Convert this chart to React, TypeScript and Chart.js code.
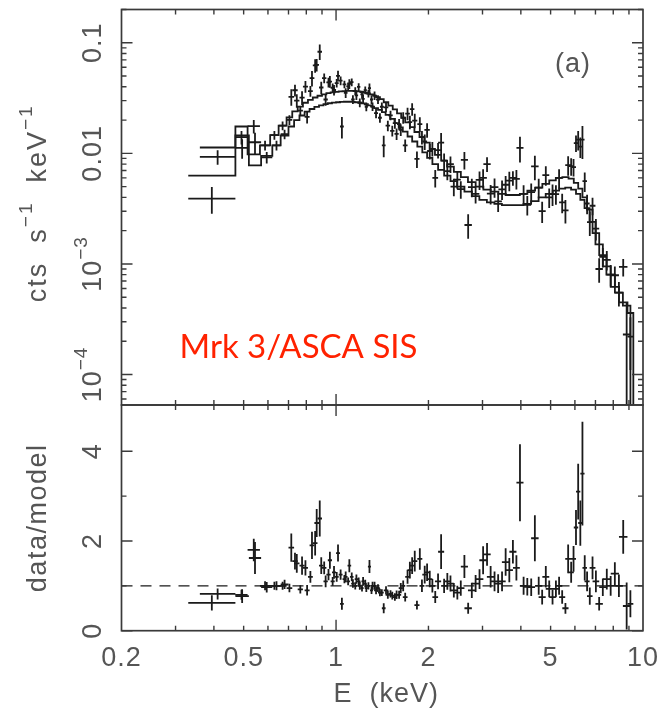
import React, { useEffect, useRef } from "react";
import { Chart, registerables } from "chart.js";
Chart.register(...registerables);

// ---------- data ----------
// Dataset A (lower model curve): bin edges in keV
const edgesA = [0.33, 0.47, 0.52, 0.57, 0.62, 0.66, 0.7, 0.73, 0.76, 0.79, 0.82, 0.85, 0.88, 0.91, 0.94, 0.97, 1.0, 1.03, 1.06, 1.09, 1.12, 1.15, 1.18, 1.21, 1.24, 1.27, 1.3, 1.33, 1.37, 1.41, 1.45, 1.5, 1.55, 1.6, 1.65, 1.71, 1.77, 1.84, 1.91, 1.98, 2.06, 2.15, 2.25, 2.36, 2.48, 2.62, 2.77, 2.93, 3.1, 3.28, 3.47, 3.67, 3.87, 4.08, 4.32, 4.57, 4.82, 5.08, 5.33, 5.58, 5.83, 6.05, 6.25, 6.45, 6.7, 7.0, 7.4, 7.85, 8.35, 8.9, 9.3];
const modelA = [
  0.0063, 0.0145, 0.0078, 0.0095, 0.0118, 0.0145, 0.0175, 0.02, 0.022, 0.0238,
  0.0252, 0.0263, 0.0272, 0.0279, 0.0284, 0.0288, 0.029, 0.0292, 0.0293, 0.0293,
  0.0292, 0.029, 0.0287, 0.0283, 0.0278, 0.0272, 0.0265, 0.0257, 0.0247, 0.0236,
  0.0223, 0.0205, 0.0188, 0.0172, 0.0157, 0.0142, 0.0128, 0.0115, 0.0102, 0.0091,
  0.008, 0.0071, 0.0063, 0.0056, 0.005, 0.0045, 0.0041, 0.0038, 0.0036, 0.0035,
  0.0034, 0.0034, 0.0034, 0.0035, 0.0037, 0.004, 0.0043, 0.0046, 0.0048, 0.0049,
  0.0047, 0.0043, 0.0038, 0.0032, 0.0024, 0.0015, 0.00095, 0.00062, 0.00045, 0.00036,
];
const countsA = [
  0.0039, 0.0112, 0.0126, 0.0092, 0.0118, 0.0149, 0.0324, 0.03, 0.0319, 0.0214,
  0.0479, 0.0631, 0.0394, 0.0307, 0.0446, 0.0374, 0.0502, 0.0175, 0.0352, 0.0425,
  0.0307, 0.0334, 0.0287, 0.0311, 0.0264, 0.0389, 0.0265, 0.0231, 0.021, 0.0118,
  0.0178, 0.016, 0.015, 0.0163, 0.0118, 0.0192, 0.0198, 0.0184, 0.0128, 0.0105,
  0.006, 0.0125, 0.0069, 0.005, 0.00475, 0.00225, 0.0043, 0.006, 0.00432, 0.00368,
  0.0052, 0.006, 0.0112, 0.00343, 0.00762, 0.003, 0.004, 0.00428, 0.0036, 0.00784,
  0.00752, 0.0133, 0.0133, 0.00352, 0.00336, 0.0009, 0.00109, 0.00079, 0.00094, 0.00022,
];
const ratioA = [
  0.62, 0.77, 1.62, 0.97, 1.0, 1.03, 1.85, 1.5, 1.45, 0.9,
  1.9, 2.4, 1.45, 1.1, 1.57, 1.3, 1.73, 0.6, 1.2, 1.45,
  1.05, 1.15, 1.0, 1.1, 0.95, 1.43, 1.0, 0.9, 0.85, 0.5,
  0.8, 0.78, 0.8, 0.95, 0.75, 1.35, 1.55, 1.6, 1.25, 1.15,
  0.75, 1.76, 1.1, 0.9, 0.95, 0.5, 1.05, 1.57, 1.2, 1.05,
  1.53, 1.76, 3.3, 0.98, 2.06, 0.75, 0.93, 0.93, 0.75, 1.6,
  1.6, 3.1, 3.5, 1.1, 1.4, 0.6, 1.15, 1.27, 2.09, 0.6,
];
const relErrA = [
  0.27, 0.2, 0.22, 0.12, 0.1, 0.1, 0.17, 0.14, 0.14, 0.13,
  0.16, 0.13, 0.13, 0.12, 0.12, 0.11, 0.11, 0.22, 0.1, 0.1,
  0.09, 0.09, 0.09, 0.09, 0.09, 0.1, 0.09, 0.1, 0.1, 0.22,
  0.11, 0.11, 0.12, 0.12, 0.13, 0.14, 0.15, 0.15, 0.16, 0.16,
  0.18, 0.22, 0.17, 0.18, 0.18, 0.25, 0.18, 0.2, 0.2, 0.2,
  0.2, 0.15, 0.26, 0.2, 0.25, 0.22, 0.2, 0.2, 0.2, 0.2,
  0.18, 0.2, 0.33, 0.2, 0.18, 0.25, 0.2, 0.2, 0.18, 0.5,
];

// Dataset B (upper model curve)
const edgesB = [0.36, 0.47, 0.515, 0.565, 0.61, 0.65, 0.69, 0.72, 0.75, 0.78, 0.81, 0.84, 0.87, 0.9, 0.93, 0.96, 0.99, 1.02, 1.05, 1.08, 1.11, 1.14, 1.17, 1.2, 1.23, 1.26, 1.29, 1.32, 1.35, 1.39, 1.43, 1.48, 1.53, 1.58, 1.63, 1.68, 1.74, 1.8, 1.87, 1.94, 2.02, 2.1, 2.2, 2.3, 2.42, 2.55, 2.69, 2.85, 3.02, 3.19, 3.38, 3.57, 3.77, 3.97, 4.2, 4.45, 4.7, 4.95, 5.2, 5.46, 5.72, 5.95, 6.15, 6.35, 6.57, 6.85, 7.2, 7.6, 8.1, 8.6, 9.1];
const modelB = [
  0.0113, 0.0175, 0.0098, 0.0118, 0.0146, 0.0178, 0.0212, 0.024, 0.0265, 0.0287,
  0.0305, 0.032, 0.0332, 0.0342, 0.035, 0.0356, 0.036, 0.0364, 0.0366, 0.0367,
  0.0367, 0.0366, 0.0363, 0.0359, 0.0354, 0.0348, 0.0341, 0.0333, 0.0323, 0.031,
  0.029, 0.027, 0.025, 0.023, 0.021, 0.0191, 0.0173, 0.0156, 0.014, 0.0125,
  0.011, 0.0097, 0.0086, 0.0076, 0.0068, 0.0061, 0.0055, 0.005, 0.0047, 0.0045,
  0.0043, 0.0042, 0.0042, 0.0043, 0.0046, 0.0049, 0.0053, 0.0057, 0.006, 0.0061,
  0.0059, 0.0054, 0.0048, 0.004, 0.0031, 0.0019, 0.0012, 0.0008, 0.00055, 0.00042,
];
const countsB = [
  0.0093, 0.014, 0.0176, 0.0118, 0.0146, 0.0178, 0.0201, 0.0372, 0.0244, 0.0402,
  0.0366, 0.0624, 0.083, 0.0479, 0.0438, 0.0392, 0.0432, 0.0455, 0.0421, 0.0404,
  0.044, 0.0366, 0.0399, 0.0341, 0.0372, 0.0348, 0.0307, 0.0333, 0.0307, 0.0264,
  0.0261, 0.0221, 0.0188, 0.0184, 0.021, 0.0229, 0.0251, 0.0089, 0.014, 0.0163,
  0.011, 0.0107, 0.0086, 0.008, 0.00578, 0.00872, 0.00495, 0.00575, 0.008, 0.00495,
  0.00473, 0.00567, 0.00588, 0.0043, 0.00446, 0.0049, 0.00636, 0.00428, 0.006, 0.00305,
  0.00767, 0.0124, 0.0115, 0.0056, 0.00239, 0.00209, 0.00116, 0.0008, 0.00055, 0.00023,
];
const ratioB = [
  0.82, 0.8, 1.8, 1.0, 1.0, 1.0, 0.95, 1.55, 0.92, 1.4,
  1.2, 1.95, 2.5, 1.4, 1.25, 1.1, 1.2, 1.25, 1.15, 1.1,
  1.2, 1.0, 1.1, 0.95, 1.05, 1.0, 0.9, 1.0, 0.95, 0.85,
  0.9, 0.82, 0.75, 0.8, 1.0, 1.2, 1.45, 0.57, 1.0, 1.3,
  1.0, 1.1, 1.0, 1.05, 0.85, 1.43, 0.9, 1.15, 1.7, 1.1,
  1.1, 1.35, 1.4, 1.0, 0.97, 1.0, 1.2, 0.75, 1.0, 0.5,
  1.3, 2.3, 2.4, 1.4, 0.77, 1.1, 0.97, 1.0, 1.0, 0.55,
];
const relErrB = [
  0.15, 0.14, 0.14, 0.1, 0.09, 0.09, 0.1, 0.12, 0.1, 0.12,
  0.11, 0.14, 0.16, 0.1, 0.1, 0.09, 0.09, 0.09, 0.08, 0.08,
  0.08, 0.08, 0.08, 0.08, 0.08, 0.08, 0.09, 0.09, 0.09, 0.09,
  0.1, 0.1, 0.11, 0.11, 0.12, 0.13, 0.13, 0.17, 0.14, 0.15,
  0.15, 0.16, 0.16, 0.17, 0.18, 0.18, 0.19, 0.19, 0.15, 0.2,
  0.2, 0.2, 0.2, 0.2, 0.2, 0.2, 0.2, 0.22, 0.2, 0.24,
  0.18, 0.17, 0.21, 0.2, 0.25, 0.22, 0.2, 0.22, 0.25, 0.95,
];

// axes
const X_MIN = 0.2;
const X_MAX = 10;
const TOP_Y_MIN = 5.3e-5;
const TOP_Y_MAX = 0.2;
const BOT_Y_MIN = 0;
const BOT_Y_MAX = 5.03;
const xTickLabels = [0.2, 0.5, 1, 2, 5, 10];
const xMajorTicks = [1];
const xMinorTicks = [0.3, 0.4, 0.5, 0.6, 0.7, 0.8, 0.9, 2, 3, 4, 5, 6, 7, 8, 9];
const topDecades = [1e-4, 1e-3, 1e-2, 1e-1];
const minorMantissas = [2, 3, 4, 5, 6, 7, 8, 9];
const topTickLabels = [
  { v: 0.1, base: "0.1", sup: "" },
  { v: 0.01, base: "0.01", sup: "" },
  { v: 1e-3, base: "10", sup: "\u22123" },
  { v: 1e-4, base: "10", sup: "\u22124" },
];
const ratioMajorTicks = [0, 2, 4];
const ratioMinorTicks = [1, 3];
const ratioTickLabels = ["0", "2", "4"];
const unityLevel = 1;

// ---------- style ----------
const LINE = "#1a1a1a";
const FRAME = "#3a3a3a";
const TEXT = "#555555";
const FONT = '"Liberation Sans", Arial, Helvetica, sans-serif';
const MAJOR = 11;
const MINOR = 5;

type Pt = { x: number; y: number | null };

function crossPoints(edges: number[], values: number[], errs: number[], floor: number): Pt[] {
  const pts: Pt[] = [];
  for (let i = 0; i < values.length; i++) {
    const lo = edges[i];
    const hi = edges[i + 1];
    const c = Math.sqrt(lo * hi);
    const v = values[i];
    const e = errs[i];
    pts.push({ x: lo, y: v }, { x: hi, y: v }, { x: hi, y: null });
    pts.push({ x: c, y: Math.max(v - e, floor) }, { x: c, y: v + e }, { x: c, y: null });
  }
  return pts;
}

function stepPoints(edges: number[], model: number[], floor: number): Pt[] {
  const pts: Pt[] = [];
  for (let i = 0; i < model.length; i++) {
    pts.push({ x: edges[i], y: model[i] }, { x: edges[i + 1], y: model[i] });
  }
  pts.push({ x: edges[edges.length - 1], y: floor });
  return pts;
}

function lineDs(data: Pt[], width: number, dash: number[] = []) {
  return {
    data,
    borderColor: LINE,
    borderWidth: width,
    borderDash: dash,
    pointRadius: 0,
    fill: false,
    tension: 0,
    spanGaps: false,
  };
}

type Part = { text: string; size: number; raise: number };

function drawRotated(ctx: CanvasRenderingContext2D, x: number, y: number, parts: Part[], spacing = "1px") {
  ctx.save();
  ctx.translate(x, y);
  ctx.rotate(-Math.PI / 2);
  (ctx as any).letterSpacing = spacing;
  let total = 0;
  const widths = parts.map((p) => {
    ctx.font = `${p.size}px ${FONT}`;
    const w = ctx.measureText(p.text).width;
    total += w;
    return w;
  });
  let cur = -total / 2;
  ctx.textAlign = "left";
  ctx.textBaseline = "alphabetic";
  parts.forEach((p, i) => {
    ctx.font = `${p.size}px ${FONT}`;
    ctx.fillText(p.text, cur, -p.raise);
    cur += widths[i];
  });
  ctx.restore();
}

function xTicks(ctx: CanvasRenderingContext2D, xs: any, a: any, top: boolean, bottom: boolean) {
  const draw = (vals: number[], len: number) => {
    for (const v of vals) {
      const px = xs.getPixelForValue(v);
      if (top) {
        ctx.moveTo(px, a.top);
        ctx.lineTo(px, a.top + len);
      }
      if (bottom) {
        ctx.moveTo(px, a.bottom);
        ctx.lineTo(px, a.bottom - len);
      }
    }
  };
  draw(xMinorTicks, MINOR);
  draw(xMajorTicks, MAJOR);
}

function yTicks(ctx: CanvasRenderingContext2D, ys: any, a: any, vals: number[], len: number) {
  for (const v of vals) {
    const py = ys.getPixelForValue(v);
    if (py < a.top - 0.5 || py > a.bottom + 0.5) continue;
    ctx.moveTo(a.left, py);
    ctx.lineTo(a.left + len, py);
    ctx.moveTo(a.right, py);
    ctx.lineTo(a.right - len, py);
  }
}

const topPanelPlugin = {
  id: "topPanel",
  afterDraw(chart: any) {
    const { ctx, chartArea: a } = chart;
    const xs = chart.scales.x;
    const ys = chart.scales.y;
    ctx.save();
    ctx.strokeStyle = FRAME;
    ctx.lineWidth = 1.7;
    ctx.strokeRect(a.left, a.top, a.right - a.left, a.bottom - a.top);
    ctx.lineWidth = 1.4;
    ctx.beginPath();
    xTicks(ctx, xs, a, true, true);
    yTicks(ctx, ys, a, topDecades, MAJOR);
    const minors: number[] = [];
    for (const d of [1e-5, ...topDecades]) for (const m of minorMantissas) minors.push(m * d);
    yTicks(ctx, ys, a, minors, MINOR);
    ctx.stroke();

    ctx.fillStyle = TEXT;
    for (const t of topTickLabels) {
      const parts: Part[] = [{ text: t.base, size: 27, raise: 0 }];
      if (t.sup) parts.push({ text: t.sup, size: 19, raise: 14 });
      drawRotated(ctx, a.left - 20.5, ys.getPixelForValue(t.v), parts);
    }
    drawRotated(ctx, a.left - 75.5, (a.top + a.bottom) / 2 - 4, [
      { text: "cts  s", size: 27, raise: 0 },
      { text: "\u22121", size: 19, raise: 14 },
      { text: "  keV", size: 27, raise: 0 },
      { text: "\u22121", size: 19, raise: 14 },
    ], "2px");

    (ctx as any).letterSpacing = "1px";
    ctx.font = `27px ${FONT}`;
    ctx.textAlign = "center";
    ctx.textBaseline = "alphabetic";
    ctx.fillText("(a)", a.right - 70, a.top + 62.5);

    (ctx as any).letterSpacing = "0px";
    ctx.fillStyle = "#ff2200";
    ctx.font = `33px Lato, "Open Sans", sans-serif`;
    ctx.textAlign = "left";
    ctx.fillText("Mrk 3/ASCA SIS", a.left + 58, a.top + 348.5);
    ctx.restore();
  },
};

const bottomPanelPlugin = {
  id: "bottomPanel",
  afterDraw(chart: any) {
    const { ctx, chartArea: a } = chart;
    const xs = chart.scales.x;
    const ys = chart.scales.y;
    ctx.save();
    ctx.strokeStyle = FRAME;
    ctx.lineWidth = 1.7;
    ctx.strokeRect(a.left, a.top, a.right - a.left, a.bottom - a.top);
    ctx.lineWidth = 1.4;
    ctx.beginPath();
    xTicks(ctx, xs, a, true, true);
    yTicks(ctx, ys, a, ratioMajorTicks, MAJOR);
    yTicks(ctx, ys, a, ratioMinorTicks, MINOR);
    ctx.stroke();

    ctx.fillStyle = TEXT;
    ratioMajorTicks.forEach((v, i) => {
      drawRotated(ctx, a.left - 20.5, ys.getPixelForValue(v), [{ text: ratioTickLabels[i], size: 27, raise: 0 }]);
    });
    drawRotated(ctx, a.left - 75.5, (a.top + a.bottom) / 2, [{ text: "data/model", size: 27, raise: 0 }], "1.5px");

    (ctx as any).letterSpacing = "1px";
    ctx.font = `27px ${FONT}`;
    ctx.textAlign = "center";
    ctx.textBaseline = "alphabetic";
    for (const v of xTickLabels) {
      ctx.fillText(String(v), xs.getPixelForValue(v), a.bottom + 35.5);
    }
    ctx.fillText("E  (keV)", (a.left + a.right) / 2 + 4, a.bottom + 71);
    ctx.restore();
  },
};

function topConfig(): any {
  const floor = 1e-9;
  return {
    type: "line",
    data: {
      datasets: [
        lineDs(stepPoints(edgesA, modelA, floor), 1.8),
        lineDs(stepPoints(edgesB, modelB, floor), 1.8),
        lineDs(crossPoints(edgesA, countsA, countsA.map((c, i) => c * relErrA[i]), floor), 1.8),
        lineDs(crossPoints(edgesB, countsB, countsB.map((c, i) => c * relErrB[i]), floor), 1.8),
      ],
    },
    options: {
      animation: false,
      responsive: false,
      devicePixelRatio: 1,
      events: [],
      layout: { padding: { left: 121.5, right: 17, top: 9.5, bottom: 15 } },
      plugins: { legend: { display: false }, tooltip: { enabled: false }, title: { display: false } },
      scales: {
        x: { type: "logarithmic", min: X_MIN, max: X_MAX, display: false, bounds: "data" },
        y: { type: "logarithmic", min: TOP_Y_MIN, max: TOP_Y_MAX, display: false, bounds: "data" },
      },
    },
    plugins: [topPanelPlugin],
  };
}

function bottomConfig(): any {
  return {
    type: "line",
    data: {
      datasets: [
        lineDs([{ x: X_MIN, y: unityLevel }, { x: X_MAX, y: unityLevel }], 1.4, [11, 8]),
        lineDs(crossPoints(edgesA, ratioA, ratioA.map((r, i) => r * relErrA[i]), -1), 1.8),
        lineDs(crossPoints(edgesB, ratioB, ratioB.map((r, i) => r * relErrB[i]), -1), 1.8),
      ],
    },
    options: {
      animation: false,
      responsive: false,
      devicePixelRatio: 1,
      events: [],
      layout: { padding: { left: 121.5, right: 17, top: 10, bottom: 81.3 } },
      plugins: { legend: { display: false }, tooltip: { enabled: false }, title: { display: false } },
      scales: {
        x: { type: "logarithmic", min: X_MIN, max: X_MAX, display: false, bounds: "data" },
        y: { type: "linear", min: BOT_Y_MIN, max: BOT_Y_MAX, display: false, bounds: "data" },
      },
    },
    plugins: [bottomPanelPlugin],
  };
}

export default function App() {
  const topRef = useRef<HTMLCanvasElement>(null);
  const botRef = useRef<HTMLCanvasElement>(null);
  useEffect(() => {
    const c1 = new Chart(topRef.current as HTMLCanvasElement, topConfig());
    const c2 = new Chart(botRef.current as HTMLCanvasElement, bottomConfig());
    return () => {
      c1.destroy();
      c2.destroy();
    };
  }, []);
  return (
    <div style={{ position: "absolute", left: 0, top: 0, width: 660, height: 712, background: "#fff", overflow: "hidden" }}>
      <canvas ref={topRef} width={660} height={420} style={{ position: "absolute", left: 0, top: 0, width: 660, height: 420 }} />
      <canvas ref={botRef} width={660} height={317} style={{ position: "absolute", left: 0, top: 395, width: 660, height: 317 }} />
    </div>
  );
}
